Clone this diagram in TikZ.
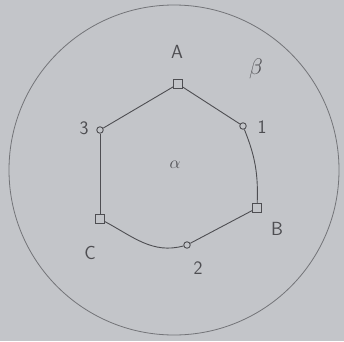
\documentclass[tikz,border=0pt]{standalone}
\usepackage{amsmath,amssymb}
\usepackage{xcolor}
\usepackage{tikz}
\usetikzlibrary{positioning,calc}

\definecolor{paper}{RGB}{195,197,201}
\definecolor{ink}{RGB}{78,78,82}
\definecolor{rim}{RGB}{115,116,120}

\begin{document}
\begin{tikzpicture}[
    x=1pt, y=1pt,
    sqnode/.style={rectangle, draw=ink, line width=0.9pt, minimum size=8.5pt, inner sep=0pt, fill=paper},
    rndnode/.style={circle, draw=ink, line width=0.9pt, minimum size=6.5pt, inner sep=0pt, fill=paper},
    lbl/.style={text=ink, font=\sffamily\fontsize{19}{21}\selectfont, inner sep=0pt},
    edge/.style={draw=ink, line width=0.9pt}
]
    % Paper and outer region
    \fill[paper] (0,0) rectangle (344,341);
    \useasboundingbox (0,0) rectangle (344,341);
    \draw[rim, line width=0.8pt] (174,171) circle (165);

    % Corner vertices
    \node[sqnode] (A) at (178,257) {};
    \node[sqnode] (B) at (257,133) {};
    \node[sqnode] (C) at (100,122) {};

    % Edge points
    \node[rndnode] (n1) at (243,215) {};
    \node[rndnode] (n2) at (187,96) {};
    \node[rndnode] (n3) at (100,211) {};

    % Labels
    \node[lbl] (labA) at (177,289) {A};
    \node[lbl] (labB) at (277,112) {B};
    \node[lbl] (labC) at (90,88) {C};
    \node[lbl] (lab1) at (262,214) {1};
    \node[lbl] (lab2) at (198,73) {2};
    \node[lbl] (lab3) at (84,213) {3};
    \node[lbl] (alpha) at (175,176) {$\alpha$};
    \node[lbl, scale=1.3] (beta) at (256,272) {$\beta$};

    % Boundary
    \draw[edge] (A) -- (n1);
    \draw[edge] (n1) to[bend left=12] (B);
    \draw[edge] (B) -- (n2);
    \draw[edge] (n2) to[out=195, in=-28] (C);
    \draw[edge] (C) -- (n3);
    \draw[edge] (n3) -- (A);

\end{tikzpicture}
\end{document}
